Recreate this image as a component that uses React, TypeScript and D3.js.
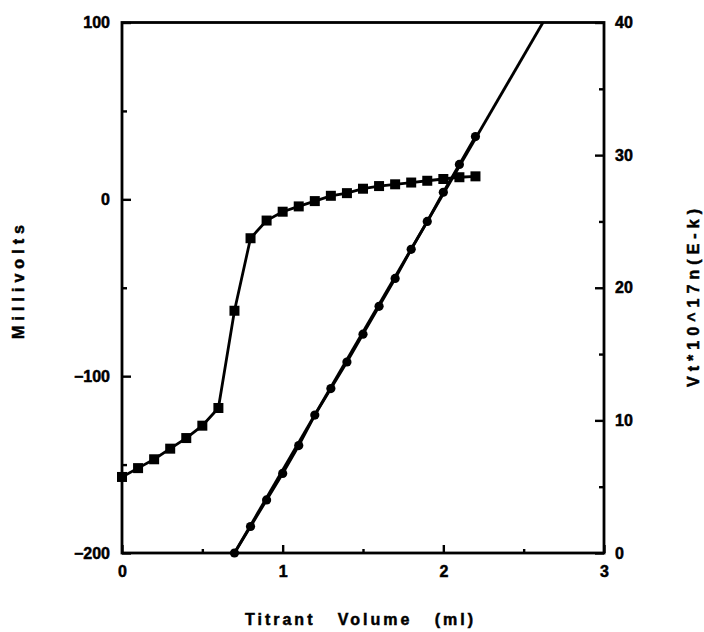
import React, { useRef, useEffect } from 'react';
import * as d3 from 'd3';

// titrant volume (ml) for the millivolt readings
const mvVolume = [0, 0.1, 0.2, 0.3, 0.4, 0.5, 0.6, 0.7, 0.8, 0.9, 1.0, 1.1, 1.2, 1.3, 1.4, 1.5, 1.6, 1.7, 1.8, 1.9, 2.0, 2.1, 2.2];
const millivolts = [-157, -152, -147, -141, -135, -128, -118, -63, -22, -12, -7, -4, -1, 2, 3.5, 6, 7.5, 8.5, 9.5, 10.5, 11.5, 12.5, 13];

// Gran function values (right axis)
const granVolume = [0.7, 0.8, 0.9, 1.0, 1.1, 1.2, 1.3, 1.4, 1.5, 1.6, 1.7, 1.8, 1.9, 2.0, 2.1, 2.2];
const granValues = [0, 2, 4, 6, 8.1, 10.4, 12.4, 14.4, 16.5, 18.6, 20.7, 22.9, 25, 27.2, 29.3, 31.4];

// fitted line, extended to the top of the plot
const fitVolume = [0.7, 2.62];
const fitValues = [0, 40];

const xTicks = [0, 1, 2, 3];
const xMinor = [0.5, 1.5, 2.5];
const mvTicks = [-200, -100, 0, 100];
const mvMinor = [-150, -50, 50];
const granTicks = [0, 10, 20, 30, 40];
const granMinor = [5, 15, 25, 35];

const FONT = '"Liberation Sans", Arial, Helvetica, sans-serif';

const App = () => {
  const chartRef = useRef<SVGSVGElement>(null);

  useEffect(() => {
    const width = 704;
    const height = 632;
    const left = 122;
    const right = 604;
    const top = 22.5;
    const bottom = 553;

    const svg = d3.select(chartRef.current);
    svg.selectAll('*').remove();
    svg.attr('width', width).attr('height', height).attr('viewBox', [0, 0, width, height]);

    const x = d3.scaleLinear().domain([0, 3]).range([left, right]);
    const yL = d3.scaleLinear().domain([-200, 100]).range([bottom, top]);
    const yR = d3.scaleLinear().domain([0, 40]).range([bottom, top]);

    const styleAxis = (g) => {
      g.select('.domain').remove();
      g.selectAll('line').attr('stroke', '#000').attr('stroke-width', 2.4);
      g.selectAll('text')
        .attr('fill', '#000')
        .attr('stroke', '#000')
        .attr('stroke-width', 0.5)
        .attr('font-family', FONT)
        .attr('font-weight', 'bold')
        .attr('font-size', 16);
    };

    // frame
    svg.append('rect')
      .attr('x', left).attr('y', top)
      .attr('width', right - left).attr('height', bottom - top)
      .attr('fill', 'none').attr('stroke', '#000').attr('stroke-width', 2.8);

    // left axis
    svg.append('g').attr('transform', `translate(${left},0)`)
      .call(d3.axisLeft(yL).tickValues(mvTicks).tickSize(-9).tickPadding(12).tickFormat(d3.format('d')))
      .call(styleAxis);
    svg.append('g').attr('transform', `translate(${left},0)`)
      .call(d3.axisLeft(yL).tickValues(mvMinor).tickSize(-5).tickFormat(() => ''))
      .call(styleAxis);

    // right axis
    svg.append('g').attr('transform', `translate(${right},0)`)
      .call(d3.axisRight(yR).tickValues(granTicks).tickSize(-9).tickPadding(11).tickFormat(d3.format('d')))
      .call(styleAxis);
    svg.append('g').attr('transform', `translate(${right},0)`)
      .call(d3.axisRight(yR).tickValues(granMinor).tickSize(-5).tickFormat(() => ''))
      .call(styleAxis);

    // bottom axis
    svg.append('g').attr('transform', `translate(0,${bottom})`)
      .call(d3.axisBottom(x).tickValues(xTicks).tickSize(-8).tickPadding(13).tickFormat(d3.format('d')))
      .call(styleAxis);
    svg.append('g').attr('transform', `translate(0,${bottom})`)
      .call(d3.axisBottom(x).tickValues(xMinor).tickSize(-4).tickFormat(() => ''))
      .call(styleAxis);

    // axis titles
    const title = (sel) => sel
      .attr('font-family', FONT)
      .attr('font-weight', 'bold')
      .attr('font-size', 16)
      .attr('fill', '#000')
      .attr('stroke', '#000')
      .attr('stroke-width', 0.5)
      .attr('text-anchor', 'middle')
      .attr('lengthAdjust', 'spacing');

    svg.append('text')
      .attr('x', 359).attr('y', 625)
      .attr('textLength', 228)
      .style('white-space', 'pre')
      .text('Titrant   Volume   (ml)')
      .call(title);

    svg.append('text')
      .attr('transform', 'translate(24,282) rotate(-90)')
      .attr('textLength', 114)
      .text('Millivolts')
      .call(title);

    svg.append('text')
      .attr('transform', 'translate(699,298) rotate(-90)')
      .attr('textLength', 178)
      .text('Vt*10^17n(E-k)')
      .call(title);

    // millivolt curve with squares
    const mvData = mvVolume.map((v, i) => ({ x: v, y: millivolts[i] }));
    const mvLine = d3.line().x(d => x(d.x)).y(d => yL(d.y));
    svg.append('path')
      .datum(mvData)
      .attr('fill', 'none').attr('stroke', '#000').attr('stroke-width', 2.8)
      .attr('d', mvLine);
    const sq = 10;
    svg.append('g').selectAll('rect')
      .data(mvData)
      .join('rect')
      .attr('x', d => x(d.x) - sq / 2).attr('y', d => yL(d.y) - sq / 2)
      .attr('width', sq).attr('height', sq)
      .attr('fill', '#000');

    // Gran plot with circles
    const granData = granVolume.map((v, i) => ({ x: v, y: granValues[i] }));
    const grLine = d3.line().x(d => x(d.x)).y(d => yR(d.y));
    svg.append('path')
      .datum(fitVolume.map((v, i) => ({ x: v, y: fitValues[i] })))
      .attr('fill', 'none').attr('stroke', '#000').attr('stroke-width', 2.8)
      .attr('d', grLine);
    svg.append('path')
      .datum(granData)
      .attr('fill', 'none').attr('stroke', '#000').attr('stroke-width', 2.8)
      .attr('d', grLine);
    svg.append('g').selectAll('circle')
      .data(granData)
      .join('circle')
      .attr('cx', d => x(d.x)).attr('cy', d => yR(d.y))
      .attr('r', 4.6)
      .attr('fill', '#000');
  }, []);

  return (
    <div style={{ position: 'absolute', left: 0, top: 0, background: '#fff' }}>
      <svg ref={chartRef} style={{ display: 'block' }}></svg>
    </div>
  );
};

export default App;
